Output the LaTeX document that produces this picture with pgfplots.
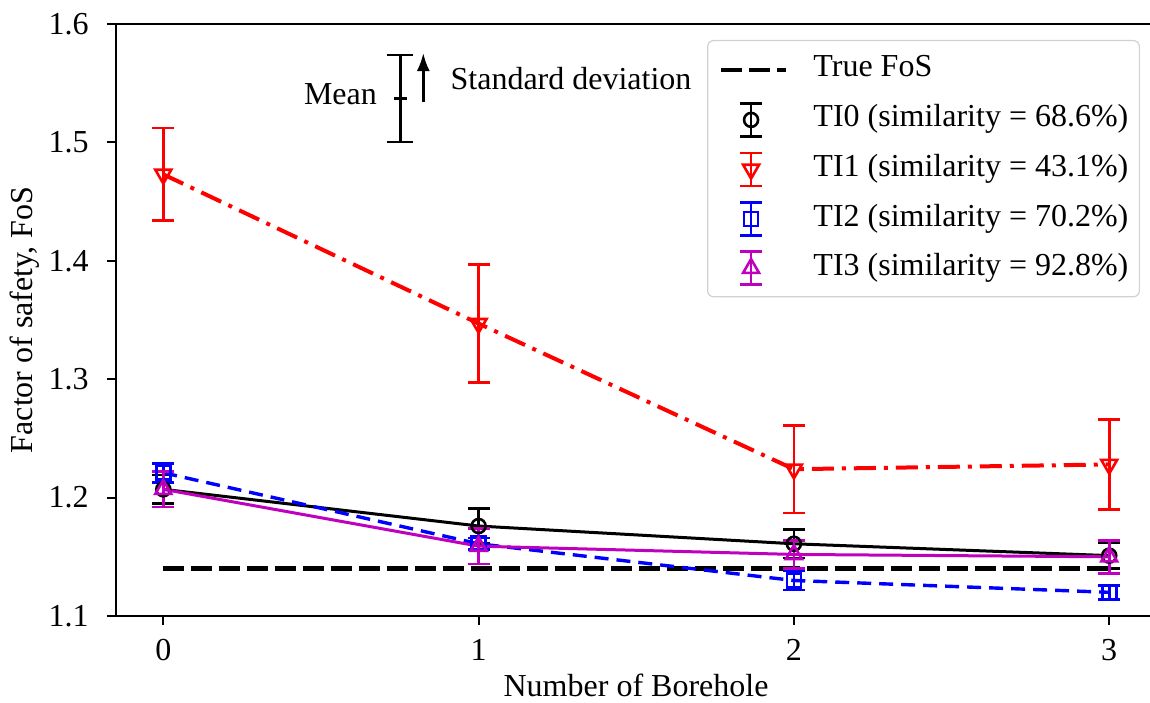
\documentclass[border=0pt]{standalone}
\usepackage{fontspec}
\setmainfont{Liberation Serif}
\usepackage{pgfplots}
\pgfplotsset{compat=1.18}
\usetikzlibrary{arrows.meta}
\definecolor{mplmag}{rgb}{0.75,0,0.75}
\newcommand{\fs}{\fontsize{16}{19}\selectfont}
\pgfplotsset{
  ebleg/.style={legend image code/.code={
    \path (0pt,-11.5pt) (32.5pt,11.5pt);
    \draw[solid,line width=1.3pt] (15pt,-8.25pt) -- (15pt,8.25pt);
    \draw[solid,line width=1.3pt] (9.5pt,-8.25pt) -- (20.5pt,-8.25pt);
    \draw[solid,line width=1.3pt] (9.5pt,8.25pt) -- (20.5pt,8.25pt);
    \draw[solid] plot coordinates {(15pt,0pt)};
  }},
  lineleg/.style={legend image code/.code={
    \path (0pt,-11.5pt) (32.5pt,11.5pt);
    \draw (0pt,0pt) -- (32.5pt,0pt);
  }},
  ebs/.style={error bars/.cd, y dir=both, y explicit,
    error bar style={solid,line width=1.3pt},
    error mark options={rotate=90,mark size=5.5pt,line width=1.3pt,solid}},
}
\begin{document}
\fs
\begin{tikzpicture}
\begin{axis}[
  name=ax,
  scale only axis, width=520.25pt, height=296pt,
  xmin=-0.15, xmax=3.15, ymin=1.1, ymax=1.6,
  xtick={0,1,2,3}, ytick={1.1,1.2,1.3,1.4,1.5,1.6},
  tick align=outside, tick pos=left, major tick length=4.5pt,
  axis line style={line width=1.1pt},
  tick style={line width=1pt,black},
  ticklabel style={font=\fs},
  /pgf/number format/assume math mode=true,
  yticklabel style={xshift=-3.7pt, /pgf/number format/fixed, /pgf/number format/fixed zerofill, /pgf/number format/precision=1},
  xticklabel style={yshift=-1.7pt},
  xlabel={Number of Borehole},
  ylabel={Factor of safety, FoS},
  every axis x label/.style={at={(rel axis cs:0.4998,-0.1368)}, anchor=base, font=\fs},
  every axis y label/.style={at={(rel axis cs:-0.0875,0.5)}, anchor=center, rotate=90, font=\fs},
  legend cell align=left,
  legend style={at={(rel axis cs:0.9841,0.973)}, anchor=north east,
    font=\fs, draw=black!18, line width=0.6pt, rounded corners=3pt,
    fill=white, inner xsep=5.5pt, inner ysep=2pt, row sep=0pt, column sep=12.5pt,
    nodes={inner sep=0pt, text height=11pt, text depth=4pt},
    cells={anchor=west}},
]
% True FoS
\addplot[black, line width=2.4pt, dash pattern=on 10.5pt off 3.5pt, lineleg] coordinates {(0,1.14) (3,1.14)};
\addlegendentry{True FoS}
% TI0
\addplot[black, line width=1.5pt, mark=o, mark size=3.5pt, mark options={solid,line width=1.3pt}, ebleg, ebs]
  coordinates {(0,1.207) +- (0,0.012) (1,1.176) +- (0,0.015) (2,1.161) +- (0,0.012) (3,1.151) +- (0,0.011)};
\addlegendentry{TI0 (similarity = 68.6\%)}
% TI1
\addplot[red, line width=2pt, dash pattern=on 11pt off 4pt on 2pt off 4pt, mark=triangle, mark size=4.6pt, mark options={solid,rotate=180,line width=1.3pt}, ebleg, ebs]
  coordinates {(0,1.473) +- (0,0.039) (1,1.347) +- (0,0.050) (2,1.224) +- (0,0.037) (3,1.228) +- (0,0.038)};
\addlegendentry{TI1 (similarity = 43.1\%)}
% TI2
\addplot[blue, line width=1.7pt, dash pattern=on 7pt off 4pt, mark=square, mark size=3.5pt, mark options={solid,line width=1.3pt}, ebleg, ebs]
  coordinates {(0,1.221) +- (0,0.008) (1,1.161) +- (0,0.005) (2,1.130) +- (0,0.008) (3,1.120) +- (0,0.006)};
\addlegendentry{TI2 (similarity = 70.2\%)}
% TI3
\addplot[mplmag, line width=1.5pt, mark=triangle, mark size=4.6pt, mark options={solid,line width=1.3pt}, ebleg, ebs]
  coordinates {(0,1.207) +- (0,0.015) (1,1.159) +- (0,0.015) (2,1.152) +- (0,0.012) (3,1.150) +- (0,0.014)};
\addlegendentry{TI3 (similarity = 92.8\%)}
% annotation error bar
\addplot[black, line width=1.3pt, mark=-, mark size=3.25pt, forget plot,
  error bars/.cd, y dir=both, y explicit,
  error bar style={solid,line width=1.3pt},
  error mark options={rotate=90,mark size=6.5pt,line width=1.3pt}]
  coordinates {(0.752,1.537) +- (0,0.0368)};
\draw[-{Latex[length=9pt,width=6.5pt]}, line width=1.3pt] (axis cs:0.8246,1.534) -- (axis cs:0.8246,1.5755);
\node[anchor=base east, inner sep=0pt, font=\fs] at (axis cs:0.6787,1.5316) {Mean};
\node[anchor=base west, inner sep=0pt, font=\fs] at (axis cs:0.910,1.5443) {Standard deviation};
\end{axis}
\pgfresetboundingbox
\path ([xshift=-58pt,yshift=-43pt]ax.south west) rectangle ([xshift=-3.25pt,yshift=12pt]ax.north east);
\end{tikzpicture}
\end{document}
